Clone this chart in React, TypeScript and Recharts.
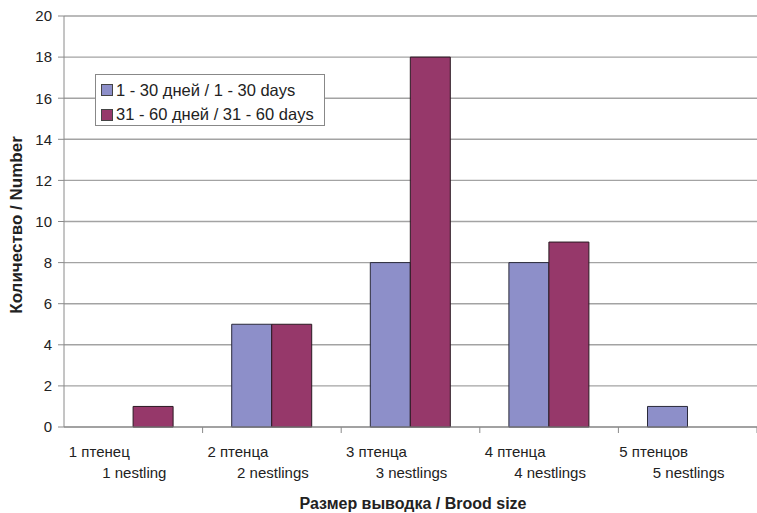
import { BarChart, Bar, XAxis, YAxis, CartesianGrid, Legend, Label } from "recharts";

const broodSizes = ["1", "2", "3", "4", "5"];
const labelsRu = ["1 птенец", "2 птенца", "3 птенца", "4 птенца", "5 птенцов"];
const labelsEn = ["1 nestling", "2 nestlings", "3 nestlings", "4 nestlings", "5 nestlings"];
const young = [0, 5, 8, 8, 1];
const older = [1, 5, 18, 9, 0];
const yTicks = [0, 2, 4, 6, 8, 10, 12, 14, 16, 18, 20];

const data = broodSizes.map((size, i) => ({
  size,
  ru: labelsRu[i],
  en: labelsEn[i],
  young: young[i],
  older: older[i],
}));

const W = 757;
const H = 513;
const PLOT_LEFT = 64;
const BAND = (W - PLOT_LEFT) / broodSizes.length;
const FONT = "'Liberation Sans', Arial, sans-serif";
const AXIS = "#8a8a8a";

// two-line category label plus a tick mark on the right edge of the band
function BroodTick(props: any) {
  const { x, y, index } = props;
  return (
    <g>
      <line x1={x + BAND / 2} x2={x + BAND / 2} y1={y} y2={y + 6} stroke={AXIS} />
      <text x={x - 34} y={y + 30} textAnchor="middle" fontSize={15} fill="#222" fontFamily={FONT}>
        {labelsRu[index]}
      </text>
      <text x={x + 1} y={y + 51} textAnchor="middle" fontSize={15} fill="#222" fontFamily={FONT}>
        {labelsEn[index]}
      </text>
    </g>
  );
}

function LegendBox(props: any) {
  const items = props.payload || [];
  return (
    <div
      style={{
        width: 230,
        height: 52,
        border: "1px solid #888",
        background: "#fff",
        fontFamily: FONT,
        fontSize: 16.5,
        color: "#222",
        padding: "3px 0 0 5px",
        boxSizing: "border-box",
      }}
    >
      {items.map((it: any) => (
        <div key={it.value} style={{ display: "flex", alignItems: "center", height: 24.5 }}>
          <span
            style={{
              width: 10,
              height: 10,
              background: it.color,
              border: "1px solid #444",
              marginRight: 3,
              display: "inline-block",
              flexShrink: 0,
            }}
          />
          <span style={{ whiteSpace: "nowrap" }}>{it.value}</span>
        </div>
      ))}
    </div>
  );
}

export default function App() {
  return (
    <div style={{ position: "absolute", left: 0, top: 0, width: W, height: H, background: "#fff" }}>
      <BarChart
        width={W}
        height={H}
        data={data}
        margin={{ top: 16, right: 0, left: 0, bottom: 0 }}
        barCategoryGap="21%"
        barGap={0}
      >
        <CartesianGrid vertical={false} stroke="#a3a3a3" strokeWidth={1.4} />
        <XAxis
          dataKey="size"
          height={86}
          stroke={AXIS}
          tickLine={false}
          tickSize={0}
          tickMargin={0}
          interval={0}
          tick={<BroodTick />}
        >
          <Label
            content={() => (
              <text
                x={413}
                y={503}
                textAnchor="middle"
                dominantBaseline="central"
                fontSize={16}
                fontWeight="bold"
                fill="#222"
                fontFamily={FONT}
              >
                Размер выводка / Brood size
              </text>
            )}
          />
        </XAxis>
        <YAxis
          width={PLOT_LEFT}
          domain={[0, 20]}
          ticks={yTicks}
          interval={0}
          stroke={AXIS}
          tickSize={6}
          tickMargin={6}
          tick={{ fontSize: 15, fill: "#222", fontFamily: FONT }}
        >
          <Label
            content={() => (
              <text
                x={16}
                y={225}
                transform="rotate(-90 16 225)"
                textAnchor="middle"
                dominantBaseline="central"
                fontSize={17}
                fontWeight="bold"
                fill="#222"
                fontFamily={FONT}
              >
                Количество / Number
              </text>
            )}
          />
        </YAxis>
        <Legend
          layout="vertical"
          align="center"
          verticalAlign="middle"
          content={<LegendBox />}
          wrapperStyle={{ left: 95, top: 74, width: 230 }}
        />
        <Bar
          dataKey="young"
          name="1 - 30 дней / 1 - 30 days"
          fill="#8d8fc9"
          stroke="#2a2a3a"
          strokeWidth={1}
          isAnimationActive={false}
        />
        <Bar
          dataKey="older"
          name="31 - 60 дней / 31 - 60 days"
          fill="#96386a"
          stroke="#2a1a22"
          strokeWidth={1}
          isAnimationActive={false}
        />
      </BarChart>
    </div>
  );
}
